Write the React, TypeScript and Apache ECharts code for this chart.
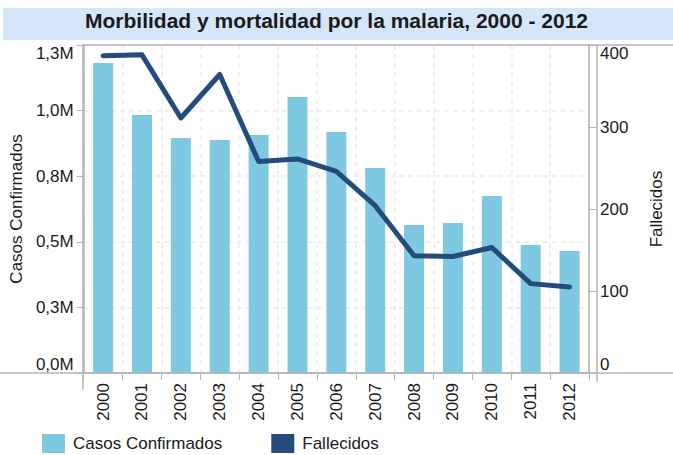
import React, { useEffect, useRef } from "react";
import * as echarts from "echarts";

const years = ["2000", "2001", "2002", "2003", "2004", "2005", "2006", "2007", "2008", "2009", "2010", "2011", "2012"];
const casos = [1181000, 983000, 896000, 888000, 907000, 1052000, 918000, 781000, 564000, 572000, 675000, 488000, 465000];
const fallecidos = [387, 388, 311, 364, 258, 261, 246, 204, 143, 142, 153, 109, 105];
const leftTickLabels = ["0,0M", "0,3M", "0,5M", "0,8M", "1,0M", "1,3M"];
const rightTickLabels = ["0", "100", "200", "300", "400"];

const FONT = "Liberation Sans, Arial, sans-serif";
const GREY = "#b5b5b5";
const TXT = "#1a1a1a";

export default function App() {
  const ref = useRef<HTMLDivElement>(null);
  useEffect(() => {
    if (!ref.current) return;
    const chart = echarts.init(ref.current, null, { renderer: "svg" });
    chart.setOption({
      animation: false,
      textStyle: { fontFamily: FONT },
      title: {
        text: "Morbilidad y mortalidad por la malaria, 2000 - 2012",
        left: "center",
        top: 10,
        padding: 0,
        textStyle: { fontSize: 21, fontWeight: "bold", color: TXT, fontFamily: FONT },
        z: 10,
      },
      graphic: [
        { type: "rect", shape: { x: 3, y: 8, width: 670, height: 32 }, style: { fill: "#d6e6fa" }, z: -1, silent: true },
        { type: "line", shape: { x1: 0, y1: 373, x2: 673, y2: 373 }, style: { stroke: GREY, lineWidth: 1.5 }, z: 5 },
        { type: "line", shape: { x1: 82, y1: 45, x2: 673, y2: 45 }, style: { stroke: GREY, lineWidth: 1.5 }, z: 5 },
        { type: "line", shape: { x1: 83, y1: 45, x2: 83, y2: 390 }, style: { stroke: GREY, lineWidth: 1.5 }, z: 5 },
        { type: "line", shape: { x1: 597, y1: 45, x2: 597, y2: 382 }, style: { stroke: GREY, lineWidth: 1.5 }, z: 5 },
      ],
      legend: {
        left: 42,
        top: 434,
        padding: 0,
        itemWidth: 23,
        itemHeight: 19,
        itemGap: 49,
        textStyle: { fontSize: 17, color: TXT, fontFamily: FONT, padding: [0, 0, 0, 3] },
        data: [
          { name: "Casos Confirmados", icon: "rect" },
          { name: "Fallecidos", icon: "rect" },
        ],
      },
      grid: { left: 83, right: 76, top: 45, bottom: 82, containLabel: false },
      xAxis: {
        type: "category",
        data: years,
        boundaryGap: true,
        axisLine: { show: true, lineStyle: { color: GREY, width: 1.5 } },
        axisTick: { show: true, length: 7, interval: 0, lineStyle: { color: GREY } },
        axisLabel: { rotate: 90, margin: 10, fontSize: 17, color: TXT, interval: 0, fontFamily: FONT },
        splitLine: { show: true, interval: 0, lineStyle: { color: "#ebebeb", type: [5, 4], width: 1.5 } },
      },
      yAxis: [
        {
          type: "value",
          min: 0,
          max: 1250000,
          interval: 250000,
          name: "Casos Confirmados",
          nameLocation: "middle",
          nameGap: 56,
          nameTextStyle: { fontSize: 17, color: TXT, fontFamily: FONT },
          axisLine: { show: true, lineStyle: { color: GREY, width: 1.5 } },
          axisTick: { show: true, length: 7, lineStyle: { color: GREY } },
          axisLabel: {
            fontSize: 17,
            color: TXT,
            margin: 10,
            fontFamily: FONT,
            verticalAlignMaxLabel: "top",
            verticalAlignMinLabel: "bottom",
            formatter: (v: number) => leftTickLabels[Math.round(v / 250000)] ?? "",
          },
          splitLine: { show: true, lineStyle: { color: "#ebebeb", type: [5, 4], width: 1.5 } },
        },
        {
          type: "value",
          min: 0,
          max: 400,
          interval: 100,
          name: "Fallecidos",
          nameLocation: "middle",
          nameGap: 59,
          nameTextStyle: { fontSize: 17, color: TXT, fontFamily: FONT },
          axisLine: { show: true, lineStyle: { color: GREY, width: 1.5 } },
          axisTick: { show: true, length: 7, lineStyle: { color: GREY } },
          axisLabel: {
            fontSize: 17,
            color: TXT,
            margin: 11,
            fontFamily: FONT,
            verticalAlignMaxLabel: "top",
            verticalAlignMinLabel: "bottom",
            formatter: (v: number) => rightTickLabels[Math.round(v / 100)] ?? "",
          },
          splitLine: { show: false },
        },
      ],
      series: [
        {
          name: "Casos Confirmados",
          type: "bar",
          yAxisIndex: 0,
          data: casos,
          barWidth: 20,
          itemStyle: { color: "#7ec8e2" },
        },
        {
          name: "Fallecidos",
          type: "line",
          yAxisIndex: 1,
          data: fallecidos,
          showSymbol: false,
          symbol: "none",
          lineStyle: { color: "#234b7b", width: 5, cap: "round", join: "round" },
          itemStyle: { color: "#234b7b" },
          z: 3,
        },
      ],
    });
    return () => chart.dispose();
  }, []);
  return <div ref={ref} style={{ width: 673, height: 455, position: "absolute", left: 0, top: 0 }} />;
}
